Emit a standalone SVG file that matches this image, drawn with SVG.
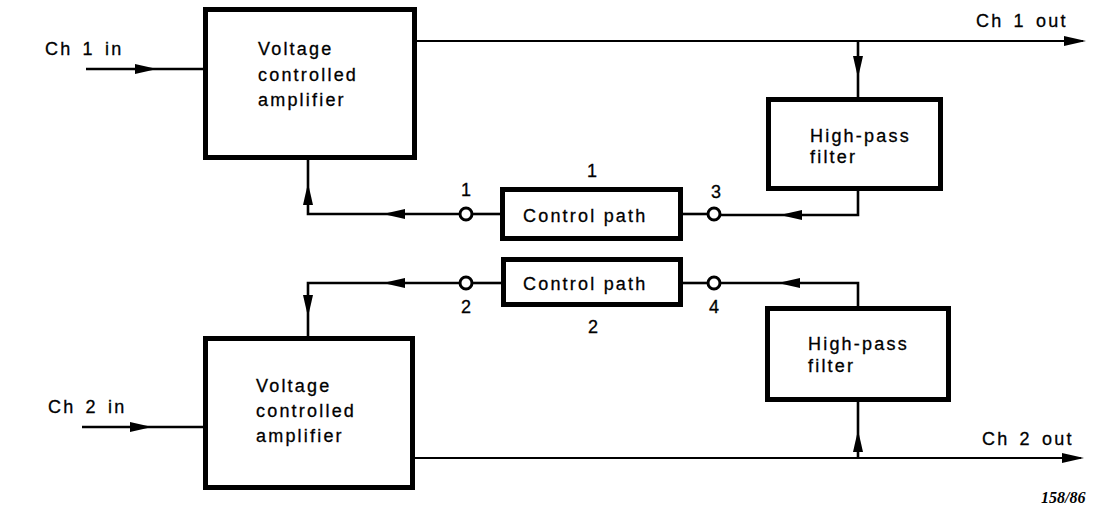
<svg xmlns="http://www.w3.org/2000/svg" xmlns:xlink="http://www.w3.org/1999/xlink" width="1094" height="510" viewBox="0 0 1094 510">
<style>
.box{fill:#fff;stroke:#000;stroke-width:5}
.ln{fill:none;stroke:#000;stroke-width:2.6;stroke-linejoin:miter}
.thin{fill:none;stroke:#000;stroke-width:2}
.term{fill:#fff;stroke:#000;stroke-width:3}
.t{font-family:"Liberation Sans",Arial,sans-serif;font-size:18px;letter-spacing:2.2px;fill:#000;stroke:#000;stroke-width:0.3}
.n{font-family:"Liberation Sans",Arial,sans-serif;font-size:18px;fill:#000;text-anchor:middle;stroke:#000;stroke-width:0.3}
.ref{font-family:"Liberation Serif","Times New Roman",serif;font-size:16px;font-style:italic;font-weight:bold;fill:#000}
</style>
<defs>
<path id="ah" d="M0,0 L-22,-5 L-22,5 Z" fill="#000"/>
</defs>
<rect width="1094" height="510" fill="#fff"/>
<g id="connectors">
<line class="ln" x1="86" y1="69" x2="203" y2="69"/>
<line class="thin" x1="417" y1="41" x2="1083" y2="41"/>
<line class="ln" x1="858" y1="41" x2="858" y2="97"/>
<polyline class="ln" points="858,191 858,215 720,215"/>
<line class="ln" x1="708" y1="214" x2="683" y2="214"/>
<line class="ln" x1="472" y1="214" x2="500" y2="214"/>
<polyline class="ln" points="460,214 308,214 308,160"/>
<line class="ln" x1="472" y1="283" x2="501" y2="283"/>
<polyline class="ln" points="460,283 308,283 308,336"/>
<line class="ln" x1="683" y1="283" x2="708" y2="283"/>
<polyline class="ln" points="720,283 858,283 858,306"/>
<line class="thin" x1="415" y1="458" x2="1081" y2="458"/>
<line class="ln" x1="858" y1="458" x2="858" y2="402"/>
<line class="ln" x1="82" y1="427" x2="203" y2="427"/>
<circle class="term" cx="466" cy="214" r="6"/>
<circle class="term" cx="714" cy="214" r="6"/>
<circle class="term" cx="466" cy="283" r="6"/>
<circle class="term" cx="714" cy="283" r="6"/>
<use xlink:href="#ah" transform="translate(157,69)"/>
<use xlink:href="#ah" transform="translate(1086,41)"/>
<use xlink:href="#ah" transform="translate(858,78) rotate(90)"/>
<use xlink:href="#ah" transform="translate(780,215) rotate(180)"/>
<use xlink:href="#ah" transform="translate(383,214) rotate(180)"/>
<use xlink:href="#ah" transform="translate(308,183) rotate(-90)"/>
<use xlink:href="#ah" transform="translate(383,283) rotate(180)"/>
<use xlink:href="#ah" transform="translate(308,317) rotate(90)"/>
<use xlink:href="#ah" transform="translate(778,283) rotate(180)"/>
<use xlink:href="#ah" transform="translate(858,430) rotate(-90)"/>
<use xlink:href="#ah" transform="translate(152,427)"/>
<use xlink:href="#ah" transform="translate(1084,458)"/>
</g>
<g id="vca1">
<rect class="box" x="205.5" y="9.5" width="209" height="148"/>
<text class="t" x="258" y="55">Voltage</text>
<text class="t" x="258" y="81">controlled</text>
<text class="t" x="258" y="106">amplifier</text>
</g>
<g id="vca2">
<rect class="box" x="205.5" y="338.5" width="207" height="149"/>
<text class="t" x="256" y="392">Voltage</text>
<text class="t" x="256" y="417">controlled</text>
<text class="t" x="256" y="442">amplifier</text>
</g>
<g id="hpf1">
<rect class="box" x="768.5" y="99.5" width="172" height="89"/>
<text class="t" x="810" y="142">High-pass</text>
<text class="t" x="810" y="163">filter</text>
</g>
<g id="hpf2">
<rect class="box" x="767.5" y="308.5" width="181" height="91"/>
<text class="t" x="808" y="350">High-pass</text>
<text class="t" x="808" y="372">filter</text>
</g>
<g id="cp1">
<rect class="box" x="502.5" y="189.5" width="178" height="49"/>
<text class="t" x="523" y="222">Control path</text>
</g>
<g id="cp2">
<rect class="box" x="503.5" y="259.5" width="177" height="45"/>
<text class="t" x="523" y="290">Control path</text>
</g>
<g id="labels">
<text class="t" x="45" y="55" word-spacing="3">Ch 1 in</text>
<text class="t" x="48" y="413" word-spacing="3">Ch 2 in</text>
<text class="t" x="976" y="27" word-spacing="3">Ch 1 out</text>
<text class="t" x="982" y="445" word-spacing="3">Ch 2 out</text>
<text class="n" x="466" y="196">1</text>
<text class="n" x="592" y="177">1</text>
<text class="n" x="716" y="198">3</text>
<text class="n" x="466" y="313">2</text>
<text class="n" x="714" y="313">4</text>
<text class="n" x="593" y="333">2</text>
<text class="ref" x="1041" y="503">158/86</text>
</g>
</svg>
